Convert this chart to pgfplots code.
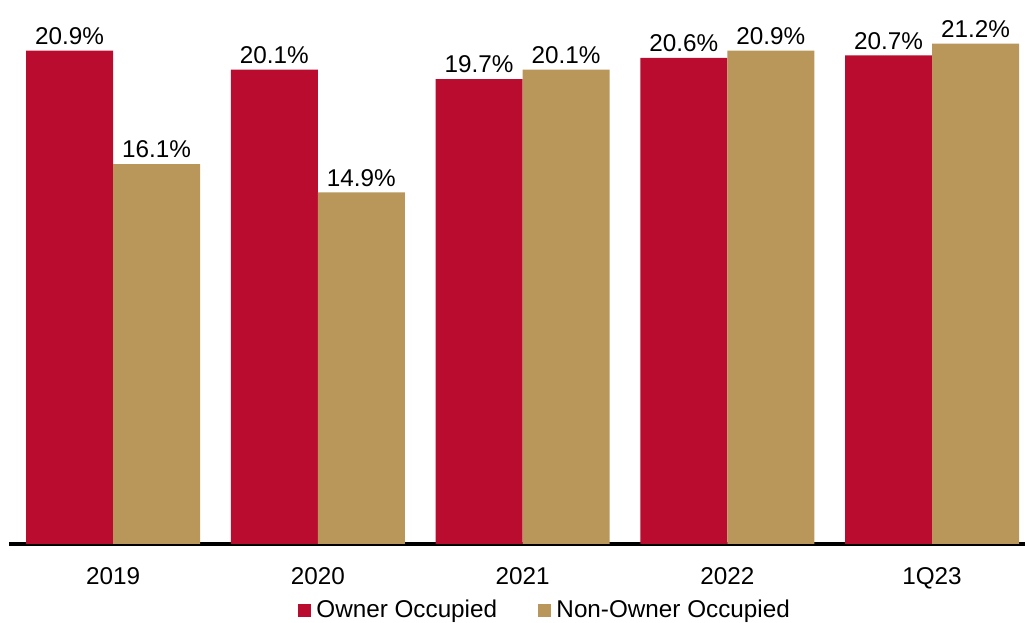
\documentclass[border=0pt]{standalone}
\usepackage{pgfplots}
\pgfplotsset{compat=1.18}
\usepackage{fontspec}
\setmainfont{Liberation Sans}
\definecolor{ownred}{HTML}{BA0C2F}
\definecolor{nontan}{HTML}{B9975B}
\newcommand{\cf}{\fontsize{18.2}{21}\selectfont}
\begin{document}
\begin{tikzpicture}
\begin{axis}[
  scale only axis,
  width=762pt, height=408pt,
  ybar=0pt, bar width=65.25pt,
  xmin=-0.508, xmax=4.454,
  ymin=0, ymax=23.05,
  axis x line*=bottom,
  axis line style={line width=3pt, black},
  hide y axis,
  xtick={0,1,2,3,4},
  xticklabels={2019,2020,2021,2022,1Q23},
  major tick length=0pt,
  xticklabel style={font=\cf, yshift=-14pt},
  nodes near coords={\pgfmathprintnumber{\pgfplotspointmeta}\%},
  every node near coord/.append style={font=\cf, black, yshift=1pt},
  /pgf/number format/.cd, fixed, fixed zerofill, precision=1, assume math mode=true,
  /pgfplots/.cd,
  legend style={at={(axis description cs:0.528,0)}, anchor=north, yshift=-40pt,
    draw=none, font=\cf, legend columns=2, inner sep=0pt,
    /tikz/every even column/.append style={column sep=29pt}},
  legend image code/.code={\fill[#1,draw=none] (0pt,-4.9pt) rectangle (9.75pt,4.9pt); \path (11.5pt,0);},
  clip=false,
]
\addplot[fill=ownred, draw=none] coordinates {(0,20.9) (1,20.1) (2,19.7) (3,20.6) (4,20.7)};
\addplot[fill=nontan, draw=none] coordinates {(0,16.1) (1,14.9) (2,20.1) (3,20.9) (4,21.2)};
\legend{Owner Occupied, Non-Owner Occupied}
\end{axis}
\pgfresetboundingbox
\path[use as bounding box] (current axis.south west) ++(-6.75pt,-59.25pt) rectangle (current axis.north east);
\end{tikzpicture}
\end{document}
